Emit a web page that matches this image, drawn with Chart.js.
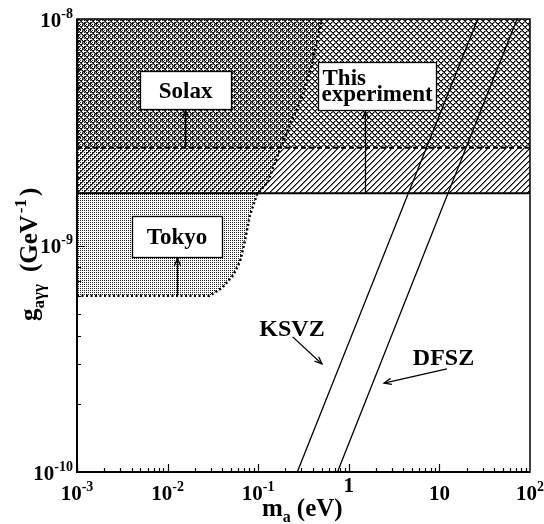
<!DOCTYPE html>
<html>
<head>
<meta charset="utf-8">
<script src="https://cdn.jsdelivr.net/npm/chart.js@4.4.0/dist/chart.umd.min.js"></script>
<style>
  html, body { margin: 0; padding: 0; background: #fff; }
  #wrap { width: 544px; height: 524px; }
</style>
</head>
<body>
<div id="wrap"><canvas id="chart" width="544" height="524"></canvas></div>
<script>
// axis ranges
const xMin = 1e-3, xMax = 1e2;
const yMin = 1e-10, yMax = 1e-8;

// tick labels (base + exponent)
const xTickValues = [1e-3, 1e-2, 1e-1, 1, 10, 100];
const xTickBase = ['10', '10', '10', '1', '10', '10'];
const xTickExp = ['-3', '-2', '-1', '', '', '2'];
const yTickValues = [1e-10, 1e-9, 1e-8];
const yTickBase = ['10', '10', '10'];
const yTickExp = ['-10', '-9', '-8'];

// Tokyo helioscope limit (dotted boundary)
const tokyoMass = [0.001, 0.029, 0.040, 0.053, 0.063, 0.071, 0.081, 0.097, 0.128, 0.165, 0.224, 0.31, 0.40, 0.506];
const tokyoCoupling = [6.0e-10, 6.0e-10, 6.5e-10, 7.4e-10, 8.5e-10, 1.04e-9, 1.36e-9, 1.68e-9, 1.91e-9, 2.51e-9, 3.4e-9, 4.6e-9, 6.5e-9, 1e-8];

// Solax limit (dashed) and this experiment (solid)
const solaxMass = [1e-3, 1e2];
const solaxCoupling = [2.7e-9, 2.7e-9];
const thisMass = [1e-3, 1e2];
const thisCoupling = [1.7e-9, 1.7e-9];

// axion model lines
const ksvzMass = [0.27, 26.5];
const ksvzCoupling = [1e-10, 1e-8];
const dfszMass = [0.75, 72];
const dfszCoupling = [1e-10, 1e-8];

const FONT = '"Liberation Serif", "Times New Roman", serif';

function toPoints(xs, ys) {
    return xs.map((x, i) => ({ x: x, y: ys[i] }));
}

function makePattern(size, draw) {
    const c = document.createElement('canvas');
    c.width = size;
    c.height = size;
    const g = c.getContext('2d');
    draw(g, size);
    return g.createPattern(c, 'repeat');
}

const dotPattern = makePattern(2, (g) => {
    g.fillStyle = '#222';
    g.fillRect(0, 0, 1, 1);
});
const slashPattern = makePattern(6, (g, s) => {
    for (let i = 0; i < s; i++) {
        g.fillStyle = '#000';
        g.fillRect(i, s - 1 - i, 1, 1);
        g.fillStyle = '#777';
        g.fillRect(i, (s - i) % s, 1, 1);
    }
});
const backslashPattern = makePattern(6, (g, s) => {
    for (let i = 0; i < s; i++) {
        g.fillStyle = '#000';
        g.fillRect(i, i, 1, 1);
        g.fillStyle = '#777';
        g.fillRect(i, (i + 1) % s, 1, 1);
    }
});

// annotation boxes, placed in data coordinates
const labelBoxes = [
    { lines: ['Solax'], x: 0.0158, y: 4.86e-9, w: 91, h: 38, arrowX: 0.0157, arrowFrom: 2.7e-9 },
    { lines: ['This', 'experiment'], x: 2.05, y: 5.06e-9, w: 118, h: 48, arrowX: 1.5, arrowFrom: 1.7e-9 },
    { lines: ['Tokyo'], x: 0.0127, y: 1.1e-9, w: 90, h: 41, arrowX: 0.0127, arrowFrom: 6e-10 }
];
const modelLabels = [
    { text: 'KSVZ', x: 0.236, y: 4.33e-10, from: [0.24, 3.95e-10], to: [0.506, 3.0e-10] },
    { text: 'DFSZ', x: 11.1, y: 3.22e-10, from: [12.1, 2.85e-10], to: [2.45, 2.47e-10] }
];

function drawArrow(ctx, x1, y1, x2, y2) {
    ctx.beginPath();
    ctx.moveTo(x1, y1);
    ctx.lineTo(x2, y2);
    ctx.stroke();
    const a = Math.atan2(y2 - y1, x2 - x1), h = 8, w = 0.4;
    ctx.beginPath();
    ctx.moveTo(x2 - h * Math.cos(a - w), y2 - h * Math.sin(a - w));
    ctx.lineTo(x2, y2);
    ctx.lineTo(x2 - h * Math.cos(a + w), y2 - h * Math.sin(a + w));
    ctx.stroke();
}

// draws "base^exp"; align: 'center' | 'right'
function drawPower(ctx, base, exp, x, y, align, size, supSize, raise) {
    ctx.font = 'bold ' + size + 'px ' + FONT;
    const wb = ctx.measureText(base).width;
    ctx.font = 'bold ' + supSize + 'px ' + FONT;
    const we = exp ? ctx.measureText(exp).width : 0;
    const total = wb + we;
    let start = align === 'right' ? x - total : x - total / 2;
    ctx.textAlign = 'left';
    ctx.textBaseline = 'alphabetic';
    ctx.font = 'bold ' + size + 'px ' + FONT;
    ctx.fillText(base, start, y);
    if (exp) {
        ctx.font = 'bold ' + supSize + 'px ' + FONT;
        ctx.fillText(exp, start + wb, y - raise);
    }
}

const decorPlugin = {
    id: 'decor',
    afterDraw(chart) {
        const ctx = chart.ctx;
        const xs = chart.scales.x, ys = chart.scales.y;
        const area = chart.chartArea;
        ctx.save();
        ctx.strokeStyle = '#000';
        ctx.fillStyle = '#000';

        // frame
        ctx.lineWidth = 1.5;
        ctx.strokeRect(area.left, area.top, area.right - area.left, area.bottom - area.top);
        ctx.lineWidth = 2;
        ctx.beginPath();
        ctx.moveTo(area.left, area.top);
        ctx.lineTo(area.left, area.bottom);
        ctx.lineTo(area.right, area.bottom);
        ctx.stroke();

        // inward ticks
        ctx.lineWidth = 1.2;
        ctx.beginPath();
        for (let d = -3; d < 2; d++) {
            for (let m = 1; m <= 9; m++) {
                const v = m * Math.pow(10, d);
                const px = Math.round(xs.getPixelForValue(v)) + 0.5;
                const len = m === 1 ? 8 : 4;
                ctx.moveTo(px, area.bottom);
                ctx.lineTo(px, area.bottom - len);
            }
        }
        for (let d = -10; d < -8; d++) {
            for (let m = 1; m <= 9; m++) {
                const v = m * Math.pow(10, d);
                const py = Math.round(ys.getPixelForValue(v)) + 0.5;
                const len = m === 1 ? 8 : 4;
                ctx.moveTo(area.left, py);
                ctx.lineTo(area.left + len, py);
            }
        }
        ctx.stroke();

        // tick labels
        xTickValues.forEach((v, i) => {
            const px = xs.getPixelForValue(v);
            const base = xTickExp[i] === '' && xTickBase[i] === '1' ? area.bottom + 20 : area.bottom + 28;
            drawPower(ctx, xTickBase[i], xTickExp[i], px, base, 'center', 21, 14, 9);
        });
        yTickValues.forEach((v, i) => {
            const py = ys.getPixelForValue(v);
            drawPower(ctx, yTickBase[i], yTickExp[i], area.left - 4, py + 7.5, 'right', 21, 14, 9);
        });

        // x title: m_a (eV)
        ctx.textAlign = 'left';
        ctx.textBaseline = 'alphabetic';
        let tx = 262, ty = 516;
        ctx.font = 'bold 25px ' + FONT;
        ctx.fillText('m', tx, ty);
        tx += ctx.measureText('m').width;
        ctx.font = 'bold 16px ' + FONT;
        ctx.fillText('a', tx, ty + 6);
        tx += ctx.measureText('a').width + 6;
        ctx.font = 'bold 25px ' + FONT;
        ctx.fillText('(eV)', tx, ty);

        // y title: g_aγγ (GeV^-1), rotated
        ctx.save();
        ctx.translate(37, 321);
        ctx.rotate(-Math.PI / 2);
        let ux = 0;
        ctx.font = 'bold 25px ' + FONT;
        ctx.fillText('g', ux, 0);
        ux += ctx.measureText('g').width;
        ctx.font = 'bold 17px ' + FONT;
        ctx.fillText('a\u03b3\u03b3', ux, 7);
        ux += ctx.measureText('a\u03b3\u03b3').width + 12;
        ctx.font = 'bold 25px ' + FONT;
        ctx.fillText('(GeV', ux, 0);
        ux += ctx.measureText('(GeV').width + 2;
        ctx.font = 'bold 17px ' + FONT;
        ctx.fillText('-1', ux, -11);
        ux += ctx.measureText('-1').width + 3;
        ctx.font = 'bold 25px ' + FONT;
        ctx.fillText(')', ux, 0);
        ctx.restore();

        // label boxes with arrows
        ctx.lineWidth = 1.3;
        labelBoxes.forEach((b) => {
            const cx = xs.getPixelForValue(b.x), cy = ys.getPixelForValue(b.y);
            const left = Math.round(cx - b.w / 2) + 0.5, top = Math.round(cy - b.h / 2) + 0.5;
            const ax = Math.round(xs.getPixelForValue(b.arrowX)) + 0.5;
            drawArrow(ctx, ax, ys.getPixelForValue(b.arrowFrom), ax, top + b.h + 1);
            ctx.fillStyle = '#fff';
            ctx.fillRect(left, top, b.w, b.h);
            ctx.strokeRect(left, top, b.w, b.h);
            ctx.fillStyle = '#000';
            ctx.font = 'bold 23px ' + FONT;
            if (b.lines.length === 1) {
                ctx.textAlign = 'center';
                ctx.fillText(b.lines[0], cx, cy + 8);
            } else {
                ctx.textAlign = 'left';
                ctx.fillText(b.lines[0], left + 4, cy - 1);
                ctx.fillText(b.lines[1], left + 3, cy + 15);
            }
        });

        // model labels
        ctx.lineWidth = 1.3;
        modelLabels.forEach((m) => {
            ctx.font = 'bold 24px ' + FONT;
            ctx.textAlign = 'center';
            ctx.fillText(m.text, xs.getPixelForValue(m.x), ys.getPixelForValue(m.y) + 8);
            drawArrow(ctx,
                xs.getPixelForValue(m.from[0]), ys.getPixelForValue(m.from[1]),
                xs.getPixelForValue(m.to[0]), ys.getPixelForValue(m.to[1]));
        });

        ctx.restore();
    }
};

const ctx = document.getElementById('chart').getContext('2d');
new Chart(ctx, {
    type: 'line',
    data: {
        datasets: [
            {
                label: 'KSVZ',
                data: toPoints(ksvzMass, ksvzCoupling),
                borderColor: '#000',
                borderWidth: 1.3,
                fill: false
            },
            {
                label: 'DFSZ',
                data: toPoints(dfszMass, dfszCoupling),
                borderColor: '#000',
                borderWidth: 1.3,
                fill: false
            },
            {
                label: 'Solax',
                data: toPoints(solaxMass, solaxCoupling),
                borderColor: '#000',
                borderWidth: 2,
                borderDash: [5, 3],
                backgroundColor: backslashPattern,
                fill: 'end'
            },
            {
                label: 'This experiment',
                data: toPoints(thisMass, thisCoupling),
                borderColor: '#000',
                borderWidth: 2,
                backgroundColor: slashPattern,
                fill: 'end'
            },
            {
                label: 'Tokyo',
                data: toPoints(tokyoMass, tokyoCoupling),
                borderColor: '#000',
                borderWidth: 2.5,
                borderDash: [2, 2.5],
                backgroundColor: dotPattern,
                fill: 'end'
            }
        ]
    },
    options: {
        responsive: false,
        animation: false,
        layout: { padding: { left: 77, right: 14, top: 19, bottom: 52 } },
        elements: { point: { radius: 0 }, line: { tension: 0 } },
        scales: {
            x: { type: 'logarithmic', min: xMin, max: xMax, display: false },
            y: { type: 'logarithmic', min: yMin, max: yMax, display: false }
        },
        plugins: {
            legend: { display: false },
            tooltip: { enabled: false },
            filler: { drawTime: 'beforeDatasetsDraw' }
        }
    },
    plugins: [decorPlugin]
});
</script>
</body>
</html>
